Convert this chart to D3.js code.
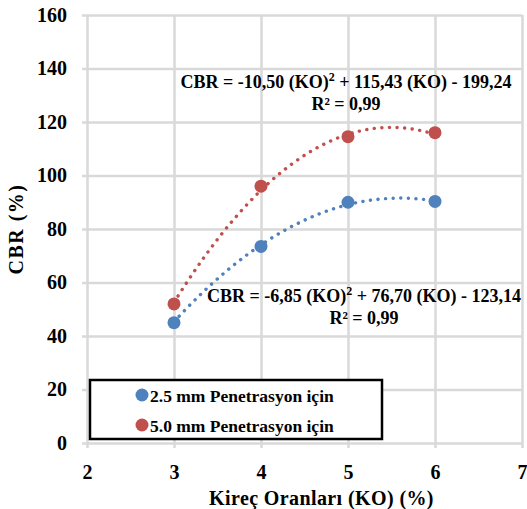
<!DOCTYPE html>
<html>
<head>
<meta charset="utf-8">
<script src="https://cdn.jsdelivr.net/npm/d3@7"></script>
<style>
  body { margin: 0; background: #fff; }
  svg text { font-family: "Liberation Serif", "Times New Roman", serif; font-weight: bold; }
</style>
</head>
<body>
<div id="chart"></div>
<script>
// data
const koValues = [3, 4, 5, 6];
const cbr25 = [45, 73.5, 90, 90.3];
const cbr50 = [52, 96, 114.5, 116];
const xTicks = [2, 3, 4, 5, 6, 7];
const yTicks = [0, 20, 40, 60, 80, 100, 120, 140, 160];
// trendline coefficients [a, b, c] for a*x^2 + b*x + c
const fit25 = [-6.85, 76.70, -123.14];
const fit50 = [-10.50, 115.43, -199.24];

const blue = "#4f81bd";
const red = "#c0504d";
const gridColor = "#d9d9d9";

let dimensions = {
  width: 527,
  height: 509,
  margin: { top: 15, right: 5, bottom: 66, left: 87 },
};
dimensions.boundedWidth = dimensions.width - dimensions.margin.left - dimensions.margin.right;
dimensions.boundedHeight = dimensions.height - dimensions.margin.top - dimensions.margin.bottom;

const wrapper = d3.select("#chart")
  .append("svg")
  .attr("width", dimensions.width)
  .attr("height", dimensions.height);

const bounds = wrapper.append("g")
  .attr("transform", `translate(${dimensions.margin.left}, ${dimensions.margin.top})`);

const xScale = d3.scaleLinear().domain([2, 7]).range([0, dimensions.boundedWidth]);
const yScale = d3.scaleLinear().domain([0, 160]).range([dimensions.boundedHeight, 0]);

// gridlines + axes
const xAxis = bounds.append("g")
  .attr("transform", `translate(0, ${dimensions.boundedHeight})`)
  .call(d3.axisBottom(xScale).tickValues(xTicks).tickSize(5).tickPadding(17).tickFormat(d3.format("d")));
xAxis.select(".domain").remove();
xAxis.selectAll(".tick line")
  .attr("y1", -dimensions.boundedHeight)
  .attr("stroke", gridColor).attr("stroke-width", 2.5);

const yAxis = bounds.append("g")
  .call(d3.axisLeft(yScale).tickValues(yTicks).tickSize(5).tickPadding(15).tickFormat(d3.format("d")));
yAxis.select(".domain").remove();
yAxis.selectAll(".tick line")
  .attr("x1", -5)
  .attr("x2", dimensions.boundedWidth)
  .attr("stroke", gridColor).attr("stroke-width", 2.5);

[xAxis, yAxis].forEach((ax) => ax.selectAll("text")
  .attr("fill", "#000")
  .style("font-size", "20px"));

// axis titles
bounds.append("text")
  .attr("x", xScale(4.5) + 17)
  .attr("y", dimensions.boundedHeight + 62)
  .attr("text-anchor", "middle")
  .style("font-size", "20px")
  .style("letter-spacing", "0.4px")
  .text("Kireç Oranları (KO) (%)");

bounds.append("text")
  .attr("transform", `translate(${-64}, ${yScale(80)}) rotate(-90)`)
  .attr("text-anchor", "middle")
  .style("font-size", "20px")
  .style("letter-spacing", "1.5px")
  .text("CBR (%)");

// trendlines
const trend = (c) => (x) => c[0] * x * x + c[1] * x + c[2];
const trendX = d3.range(3, 6.001, 0.05);
const line = d3.line()
  .x((d) => xScale(d[0]))
  .y((d) => yScale(d[1]));

[[fit25, blue], [fit50, red]].forEach(([c, color]) => {
  const f = trend(c);
  bounds.append("path")
    .datum(trendX.map((x) => [x, f(x)]))
    .attr("d", line)
    .attr("fill", "none")
    .attr("stroke", color)
    .attr("stroke-width", 3.4)
    .attr("stroke-linecap", "round")
    .attr("stroke-dasharray", "0.1 7.5");
});

// points
[[cbr25, blue], [cbr50, red]].forEach(([vals, color]) => {
  bounds.append("g")
    .selectAll("circle")
    .data(vals)
    .enter()
    .append("circle")
    .attr("cx", (d, i) => xScale(koValues[i]))
    .attr("cy", (d) => yScale(d))
    .attr("r", 6.5)
    .attr("fill", color);
});

// equations
function equation(cx, y, parts, r2) {
  const t = bounds.append("text")
    .attr("x", cx)
    .attr("y", y)
    .attr("text-anchor", "middle")
    .style("font-size", "18px");
  t.append("tspan").text(parts[0]);
  t.append("tspan").attr("dy", -7).style("font-size", "12px").text("2");
  t.append("tspan").attr("dy", 7).text(parts[1]);
  bounds.append("text")
    .attr("x", cx)
    .attr("y", y + 22)
    .attr("text-anchor", "middle")
    .style("font-size", "18px")
    .text(r2);
}
equation(346 - dimensions.margin.left, 88 - dimensions.margin.top,
  ["CBR = -10,50 (KO)", " + 115,43 (KO) - 199,24"], "R² = 0,99");
equation(364 - dimensions.margin.left, 302 - dimensions.margin.top,
  ["CBR = -6,85 (KO)", " + 76,70 (KO) - 123,14"], "R² = 0,99");

// legend
const legend = bounds.append("g")
  .attr("transform", `translate(${90 - dimensions.margin.left}, ${380 - dimensions.margin.top})`);
legend.append("rect")
  .attr("width", 292)
  .attr("height", 59)
  .attr("fill", "#fff")
  .attr("stroke", "#000")
  .attr("stroke-width", 2.5);
[["2.5 mm Penetrasyon için", blue], ["5.0 mm Penetrasyon için", red]].forEach(([label, color], i) => {
  const row = legend.append("g").attr("transform", `translate(0, ${15 + i * 30})`);
  row.append("circle").attr("cx", 52).attr("cy", 0).attr("r", 6.5).attr("fill", color);
  row.append("text")
    .attr("x", 60)
    .attr("y", 6.5)
    .style("font-size", "17.5px")
    .text(label);
});
</script>
</body>
</html>
